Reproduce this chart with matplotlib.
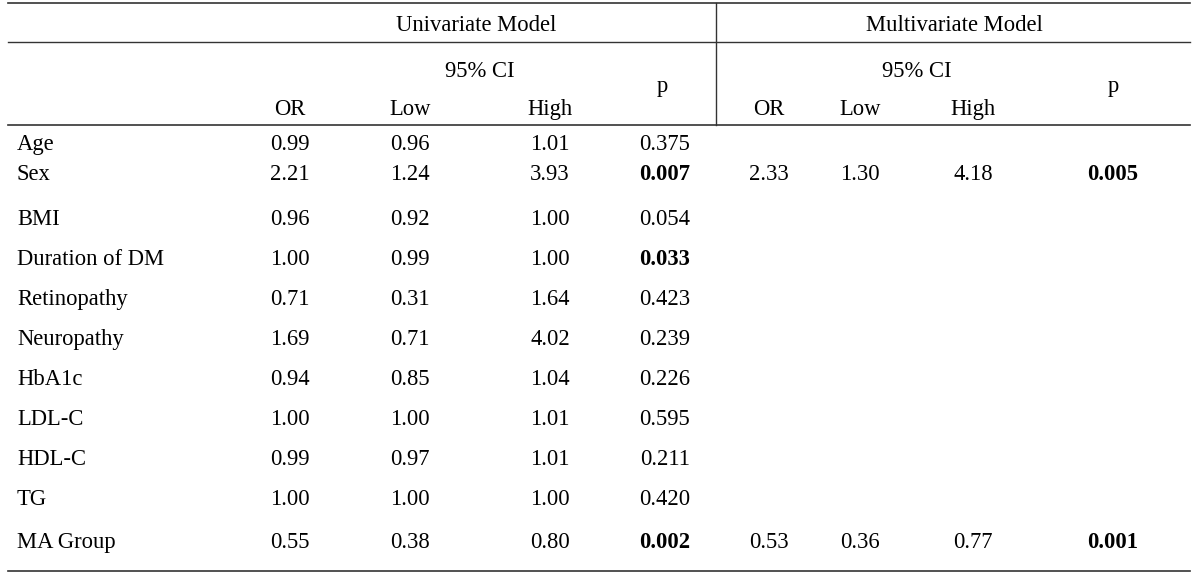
import matplotlib.pyplot as plt

plt.rcParams['font.family'] = ['Liberation Serif', 'DejaVu Serif']

variables = ['Age', 'Sex', 'BMI', 'Duration of DM', 'Retinopathy', 'Neuropathy',
             'HbA1c', 'LDL-C', 'HDL-C', 'TG', 'MA Group']
uni_or = ['0.99', '2.21', '0.96', '1.00', '0.71', '1.69', '0.94', '1.00', '0.99', '1.00', '0.55']
uni_low = ['0.96', '1.24', '0.92', '0.99', '0.31', '0.71', '0.85', '1.00', '0.97', '1.00', '0.38']
uni_high = ['1.01', '3.93', '1.00', '1.00', '1.64', '4.02', '1.04', '1.01', '1.01', '1.00', '0.80']
uni_p = ['0.375', '0.007', '0.054', '0.033', '0.423', '0.239', '0.226', '0.595', '0.211', '0.420', '0.002']
uni_bold = [False, True, False, True, False, False, False, False, False, False, True]
multi_or = ['', '2.33', '', '', '', '', '', '', '', '', '0.53']
multi_low = ['', '1.30', '', '', '', '', '', '', '', '', '0.36']
multi_high = ['', '4.18', '', '', '', '', '', '', '', '', '0.77']
multi_p = ['', '0.005', '', '', '', '', '', '', '', '', '0.001']

# layout in pixel coordinates (y down)
W, H = 1200, 576
row_y = [142, 172, 217, 257, 297, 337, 377, 417, 457, 497, 540]
col_x = [290, 410, 550, 665, 769, 860, 973, 1113]
fs = 16.3
va = 'center_baseline'

fig = plt.figure(figsize=(12, 5.76), dpi=100)
ax = fig.add_axes([0, 0, 1, 1])
ax.set_xlim(0, W)
ax.set_ylim(H, 0)
ax.axis('off')

# rules
lc = '#333333'
for y, lw in [(3, 1.2), (42, 1.0), (125, 1.2), (571, 1.2)]:
    ax.plot([8, 1190], [y, y], color=lc, lw=lw)
ax.plot([716, 716], [3, 125], color=lc, lw=1.0)

# headers
ax.text(476, 23, 'Univariate Model', ha='center', va=va, fontsize=fs)
ax.text(954, 23, 'Multivariate Model', ha='center', va=va, fontsize=fs)
ax.text(480, 69, '95% CI', ha='center', va=va, fontsize=fs)
ax.text(917, 69, '95% CI', ha='center', va=va, fontsize=fs)
ax.text(662, 84, 'p', ha='center', va=va, fontsize=fs)
ax.text(1113, 84, 'p', ha='center', va=va, fontsize=fs)
for x, lab in zip(col_x, ['OR', 'Low', 'High', None, 'OR', 'Low', 'High', None]):
    if lab:
        ax.text(x, 107, lab, ha='center', va=va, fontsize=fs)

# body
cols = [uni_or, uni_low, uni_high, uni_p, multi_or, multi_low, multi_high, multi_p]
for i, y in enumerate(row_y):
    ax.text(17, y, variables[i], ha='left', va=va, fontsize=fs)
    for j, (x, col) in enumerate(zip(col_x, cols)):
        if not col[i]:
            continue
        bold = (j in (3, 7)) and (uni_bold[i] if j == 3 else True)
        ax.text(x, y, col[i], ha='center', va=va, fontsize=fs,
                fontweight='bold' if bold else 'normal')

fig.savefig('out.png', dpi=100)
